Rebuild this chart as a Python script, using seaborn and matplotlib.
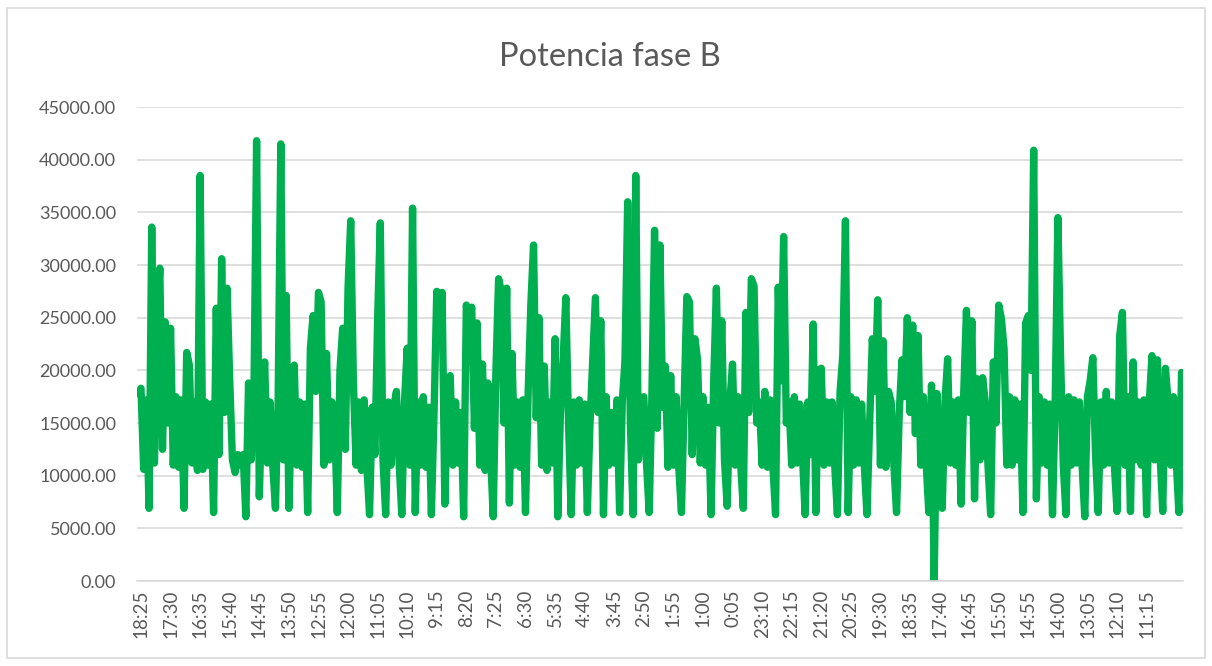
import numpy as np
import pandas as pd
import seaborn as sns
import matplotlib.pyplot as plt
from matplotlib.patches import Rectangle

# Potencia fase B, one reading every 5 minutes (W)
potencia = [
    17800, 18300, 10600, 17200, 6900, 33600, 11200, 24600, 29700, 12500,
    24600, 15000, 24000, 11000, 17500, 10800, 17200, 6900, 21700, 20500,
    11200, 17000, 10500, 38500, 10600, 17000, 11000, 16800, 6500, 25900,
    12000, 30600, 16000, 27800, 19100, 11500, 10300, 12000, 11000, 12000,
    6100, 18800, 11500, 17500, 41800, 8000, 17000, 20800, 11200, 17000,
    11000, 6900, 17000, 41500, 11500, 27100, 6900, 16500, 20500, 11000,
    17000, 10800, 16800, 6500, 22100, 25200, 18000, 27400, 26500, 11000,
    21600, 11500, 17000, 15500, 6500, 20000, 24000, 12500, 27800, 34200,
    18800, 11000, 17000, 10500, 17200, 11000, 6300, 16500, 12000, 24800,
    34000, 11500, 6300, 17000, 11000, 16500, 18000, 11200, 6300, 17000,
    22100, 11000, 35400, 6500, 17000, 11000, 17500, 10800, 16500, 6300,
    16000, 27500, 25000, 27400, 7300, 17000, 19500, 11000, 17000, 11200,
    16000, 6100, 26200, 24000, 26000, 14500, 24500, 11000, 20600, 10500,
    18800, 12000, 6100, 20000, 28700, 27500, 15000, 27800, 7400, 21600,
    11000, 17000, 10800, 17200, 6500, 18000, 26300, 31900, 15500, 25000,
    11000, 20400, 10500, 17000, 11200, 23000, 6100, 16000, 21000, 26900,
    15000, 6300, 17000, 11000, 17200, 11200, 16800, 6500, 15000, 21000,
    26900, 16000, 24700, 6300, 17500, 11000, 16000, 11200, 17200, 6500,
    17000, 20900, 36000, 15000, 6300, 38500, 11500, 17000, 17500, 11200,
    6500, 17500, 33300, 14500, 31900, 16500, 20400, 10800, 19500, 11000,
    17500, 10800, 6500, 17000, 27000, 26500, 12000, 23000, 21000, 11200,
    17500, 11000, 16500, 6300, 19000, 27800, 15000, 24700, 11500, 7100,
    17000, 20600, 11000, 17500, 11200, 6900, 25500, 16000, 28700, 28000,
    15000, 17000, 11000, 18000, 10800, 17200, 11000, 6300, 27900, 19000,
    32700, 15000, 17000, 11000, 17500, 11200, 16800, 12000, 6300, 17000,
    12000, 24400, 6500, 20000, 20200, 11000, 17000, 11200, 17000, 11000,
    6300, 18000, 21400, 34200, 6500, 17500, 11000, 17200, 11200, 16800,
    11000, 6300, 15000, 23000, 18000, 26700, 11000, 22800, 10800, 18000,
    17000, 11000, 6500, 16000, 21000, 17500, 25000, 16000, 24300, 14000,
    23300, 11000, 17500, 11200, 6500, 18600, 0, 17800, 11000, 6900,
    17000, 21100, 11200, 17000, 11000, 17200, 7300, 18000, 25700, 16000,
    24700, 7800, 19200, 11500, 19300, 17000, 11000, 6300, 20800, 15000,
    26200, 24900, 22000, 11000, 17500, 11000, 17200, 11500, 16800, 6500,
    24500, 25200, 20000, 40900, 7800, 17500, 11200, 17000, 11000, 16800,
    6300, 17000, 34500, 21300, 11000, 6300, 17500, 11000, 17200, 11200,
    17000, 11000, 6100, 17500, 19000, 21200, 12000, 6500, 17000, 11000,
    18000, 11200, 17000, 11000, 6600, 23300, 25500, 11000, 17500, 6600,
    20800, 11500, 17000, 11000, 17200, 6300, 17000, 21400, 11500, 21000,
    12000, 6600, 20200, 17000, 11000, 17500, 11500, 6500, 19800,
]

# labels shown on the category axis (every 11th reading)
etiquetas = ["18:25", "17:30", "16:35", "15:40", "14:45", "13:50", "12:55",
             "12:00", "11:05", "10:10", "9:15", "8:20", "7:25", "6:30",
             "5:35", "4:40", "3:45", "2:50", "1:55", "1:00", "0:05",
             "23:10", "22:15", "21:20", "20:25", "19:30", "18:35", "17:40",
             "16:45", "15:50", "14:55", "14:00", "13:05", "12:10", "11:15"]

y_ticks = [0, 5000, 10000, 15000, 20000, 25000, 30000, 35000, 40000, 45000]

df = pd.DataFrame({"idx": np.arange(len(potencia)), "potencia": potencia})

sns.set_style("white")
plt.rcParams['font.family'] = ['Lato', 'DejaVu Sans']

fig = plt.figure(figsize=(12.12, 6.66), dpi=100)
ax = fig.add_axes([0.113, 0.1276, 0.863, 0.7117])

gris = "#595959"
sns.lineplot(data=df, x="idx", y="potencia", ax=ax, color="#00B050",
             linewidth=5.3, solid_joinstyle="round", solid_capstyle="round")

ax.set_xlim(-0.5, len(potencia) - 0.5)
ax.set_ylim(0, 45000)
ax.set_yticks(y_ticks)
ax.set_yticklabels([f"{v:.2f}" for v in y_ticks], color=gris, fontsize=13)
ax.set_xticks(range(1, len(potencia), 11)[:len(etiquetas)])
ax.set_xticklabels(etiquetas, rotation=90, color=gris, fontsize=13.5)
ax.tick_params(axis="x", length=0, pad=6)
ax.tick_params(axis="y", length=0, pad=15)
ax.grid(axis="y", color="#D9D9D9", linewidth=1.2)
ax.set_axisbelow(True)
for s in ["top", "right", "left"]:
    ax.spines[s].set_visible(False)
ax.spines["bottom"].set_color("#D9D9D9")
ax.spines["bottom"].set_linewidth(1.2)
ax.set_xlabel("")
ax.set_ylabel("")

fig.text(0.503, 0.915, "Potencia fase B", ha="center", va="center",
         fontsize=23.5, color=gris)

fig.patches.append(Rectangle((0.006, 0.012), 0.988, 0.976, transform=fig.transFigure,
                             fill=False, edgecolor="#D9D9D9", linewidth=1.2))

fig.savefig("out.png", dpi=100)
